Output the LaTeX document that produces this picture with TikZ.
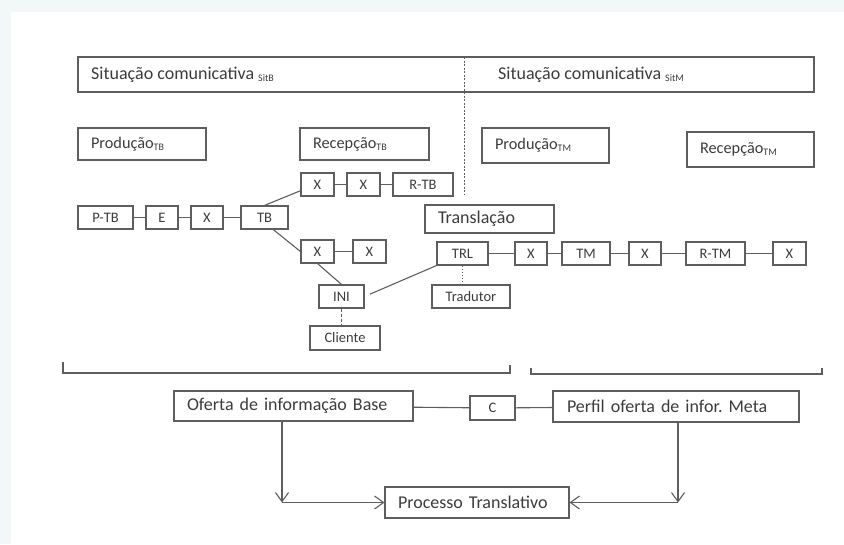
\documentclass[tikz,border=0pt]{standalone}
\usepackage{fontspec}
\setmainfont{Carlito}
\usetikzlibrary{
  arrows.meta,
  calc,
  positioning
}

\definecolor{linegray}{HTML}{5E5E5E}
\definecolor{inkgray}{HTML}{3C3C3C}
\definecolor{pagetint}{HTML}{F2F7F7}
\newcommand{\lowtag}[1]{{\fontsize{10}{10}\selectfont\raisebox{-2pt}{#1}}}
\frenchspacing

\tikzset{
  frame/.style={draw=linegray, line width=1.1pt, inner sep=0pt},
  smallbox/.style={frame, text=inkgray, minimum width=#1, minimum height=23pt,
    font=\fontsize{14.5}{16}\selectfont},
  wordbox/.style={frame, text=inkgray, text width=#1, align=left, inner xsep=13pt,
    font=\fontsize{18}{20}\selectfont},
  link/.style={draw=linegray, line width=1.1pt},
  flow/.style={link, -{Straight Barb[length=9pt,width=13pt,line width=1.1pt]}}
}

\begin{document}
\begin{tikzpicture}[x=1pt,y=-1pt]
  \useasboundingbox (0,0) rectangle (844,544);
  \fill[pagetint] (0,0) rectangle (844,544);
  \fill[white] (11,12) rectangle (844,544);

  % situacoes comunicativas
  \node[frame, minimum width=736pt, minimum height=35pt] (sit) at (446,74.5) {};
  \node[anchor=west, inner sep=0pt, text=inkgray, font=\fontsize{18}{20}\selectfont]
    (sitB) at (91,74.5) {Situação comunicativa \lowtag{SitB}};
  \node[anchor=west, inner sep=0pt, text=inkgray, font=\fontsize{18}{20}\selectfont]
    (sitM) at (498,74.5) {Situação comunicativa \lowtag{SitM}};
  \coordinate (divtop) at (464,57);
  \coordinate (divbot) at (464,195);
  \draw[link, line width=0.8pt, dash pattern=on 2pt off 1.5pt] (divtop) -- (divbot);

  % producao / recepcao
  \node[wordbox=102pt, minimum height=32pt, font=\fontsize{16.3}{18}\selectfont]
    (prodTB) at (142,144) {Produção\lowtag{TB}};
  \node[wordbox=103pt, minimum height=32pt, font=\fontsize{16.3}{18}\selectfont]
    (recTB) at (364.5,144) {Recepção\lowtag{TB}};
  \node[wordbox=101pt, minimum height=35pt, font=\fontsize{16.3}{18}\selectfont]
    (prodTM) at (545.5,145.5) {Produção\lowtag{TM}};
  \node[wordbox=101pt, minimum height=35pt, font=\fontsize{16.3}{18}\selectfont]
    (recTM) at (750.5,149.5) {Recepção\lowtag{TM}};

  % cadeia base
  \node[smallbox=55pt] (ptb) at (105.5,217.5) {P-TB};
  \node[smallbox=32pt] (e)   at (162,217.5)   {E};
  \node[smallbox=32pt] (x1)  at (207,217.5)   {X};
  \node[smallbox=47pt] (tb)  at (264.5,217.5) {TB};
  \node[smallbox=33pt] (xu1) at (317.5,184.5) {X};
  \node[smallbox=33pt] (xu2) at (363.5,184.5) {X};
  \node[smallbox=60pt] (rtb) at (423,184.5)   {R-TB};
  \node[smallbox=33pt] (xl1) at (317.5,251.5) {X};
  \node[smallbox=33pt] (xl2) at (369.5,251.5) {X};
  \node[smallbox=45pt] (ini) at (341.5,296.5) {INI};
  \node[smallbox=70pt, minimum height=24pt] (cliente) at (345,338) {Cliente};

  \draw[link] (ptb) -- (e);
  \draw[link] (e) -- (x1);
  \draw[link] (x1) -- (tb);
  \draw[link] (tb.north) -- (xu1.200);
  \draw[link] (xu1) -- (xu2);
  \draw[link] (xu2) -- (rtb);
  \draw[link] (tb.-54) -- (xl1.west);
  \draw[link] (xl1) -- (xl2);
  \draw[link] (xl1.south) -- (ini.north);
  \draw[link, line width=1.6pt, dash pattern=on 3pt off 2pt]
    (ini.south) -- (ini.south |- cliente.north);

  % translacao
  \node[wordbox=103pt, minimum height=28pt] (transl) at (489.5,219) {Translação};
  \node[smallbox=51pt] (trl) at (462.5,253.5) {TRL};
  \node[smallbox=32pt] (xr1) at (531,253.5)   {X};
  \node[smallbox=48pt] (tm)  at (586,253.5)   {TM};
  \node[smallbox=32pt] (xr2) at (645,253.5)   {X};
  \node[smallbox=59pt] (rtm) at (715.5,253.5) {R-TM};
  \node[smallbox=33pt] (xr3) at (789.5,253.5) {X};
  \node[smallbox=78pt] (tradutor) at (471,296.5) {Tradutor};

  \draw[link, shorten <=6pt] (ini.east) -- (trl.south west);
  \draw[link] (trl) -- (xr1);
  \draw[link] (xr1) -- (tm);
  \draw[link] (tm) -- (xr2);
  \draw[link] (xr2) -- (rtm);
  \draw[link] (rtm) -- (xr3);
  \draw[link, line width=0.8pt, dash pattern=on 1.5pt off 1.5pt]
    (trl.south) -- (trl.south |- tradutor.north);

  % chaves
  \draw[link] (63,362) -- (63,373) -- (510,373) -- (510,365);
  \draw[link] (531,368) -- (531,374) -- (822,374) -- (822,368);

  % oferta e perfil
  \node[wordbox=213pt, minimum height=30pt] (oferta) at (293.5,406) {Oferta de informação Base};
  \node[smallbox=45pt, minimum height=24pt] (c) at (492.5,408) {C};
  \node[wordbox=218pt, minimum height=31pt, inner xsep=14pt] (perfil) at (676,406.5)
    {Perfil oferta de infor. Meta};
  \node[wordbox=158pt, minimum height=31pt] (processo) at (477,502.5) {Processo Translativo};

  \draw[link] (oferta) -- (c);
  \draw[link] (c) -- (perfil);

  \coordinate (bendL) at (282,502.5);
  \coordinate (bendR) at (678,502.5);
  \draw[flow] (oferta.south -| bendL) -- (bendL);
  \draw[flow] (bendL) -- (processo.west);
  \draw[flow] (perfil.south -| bendR) -- (bendR);
  \draw[flow] (bendR) -- (processo.east);
\end{tikzpicture}
\end{document}
